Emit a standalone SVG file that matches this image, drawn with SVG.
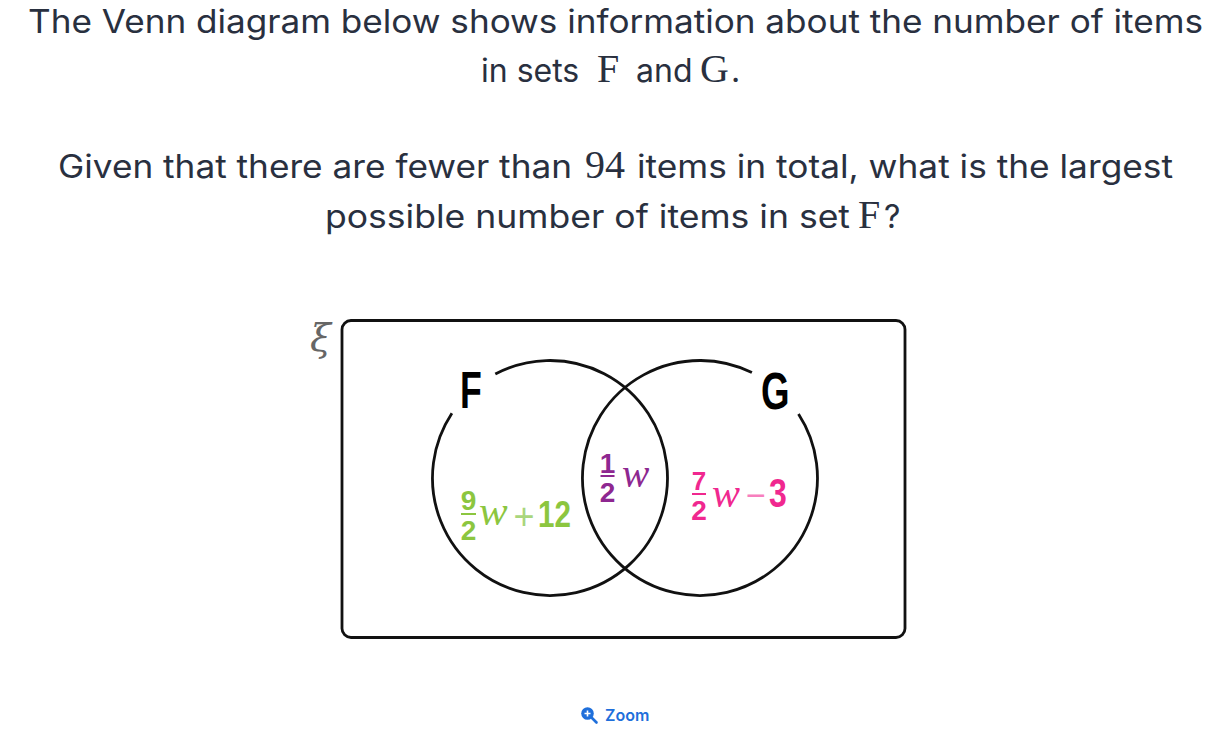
<svg xmlns="http://www.w3.org/2000/svg" width="1230" height="745" viewBox="0 0 1230 745">
<style>
.q{font-family:Inter,"Liberation Sans",sans-serif;font-size:32px;fill:#29303f}
.m{font-family:"Liberation Serif",serif;font-size:40px;fill:#29303f}
.lbl{font-family:"Liberation Sans",sans-serif;font-weight:bold;font-size:51px;fill:#000}
.d{font-family:"Liberation Sans",sans-serif;font-weight:bold}
.w{font-family:"Liberation Serif",serif;font-style:italic}
.ln{fill:none;stroke:#111;stroke-width:2.8}
</style>
<rect width="1230" height="745" fill="#fff"/>
<g id="question">
<text class="q" x="28" y="33" textLength="1175" lengthAdjust="spacingAndGlyphs">The Venn diagram below shows information about the number of items</text>
<text class="q" x="481" y="82">in sets</text>
<text class="m" x="597" y="82">F</text>
<text class="q" x="636" y="82">and</text>
<text class="m" x="700" y="82">G</text>
<text class="q" x="731" y="82">.</text>
<text class="q" x="58" y="178" textLength="514" lengthAdjust="spacingAndGlyphs">Given that there are fewer than</text>
<text class="m" x="585" y="178">94</text>
<text class="q" x="637" y="178" textLength="536" lengthAdjust="spacingAndGlyphs">items in total, what is the largest</text>
<text class="q" x="325" y="228" textLength="525" lengthAdjust="spacingAndGlyphs">possible number of items in set</text>
<text class="m" x="858" y="228">F</text>
<text class="q" x="884" y="228">?</text>
</g>
<g id="universal">
<rect x="342" y="320.5" width="563" height="317" rx="9" class="ln"/>
<text x="310" y="351" style="font-family:'DejaVu Serif',serif;font-style:italic;font-size:38px;fill:#666">ξ</text>
</g>
<g id="setF">
<path class="ln" d="M451.9 413.3 A117.5 117.5 0 1 0 495.3 374"/>
<text class="lbl" transform="translate(460 408) scale(0.7 1)">F</text>
</g>
<g id="setG">
<path class="ln" d="M751.9 372.6 A117.5 117.5 0 1 0 798.5 414"/>
<text class="lbl" transform="translate(761 409) scale(0.72 1)">G</text>
</g>
<g id="regionF" fill="#8cc63f">
<text class="d" x="468.5" y="510" font-size="28" text-anchor="middle">9</text>
<rect x="461" y="513" width="15" height="2"/>
<text class="d" x="468.5" y="540" font-size="28" text-anchor="middle">2</text>
<text class="w" x="479" y="525" font-size="43">w</text>
<text x="524" y="529" font-size="36" text-anchor="middle" fill="#a9d67c" style="font-family:'Liberation Sans',sans-serif">+</text>
<text class="d" transform="translate(538 527) scale(0.8 1)" font-size="37">12</text>
</g>
<g id="regionFG" fill="#8e2790">
<text class="d" x="607.5" y="473" font-size="28" text-anchor="middle">1</text>
<rect x="600.5" y="475" width="14" height="2"/>
<text class="d" x="607.5" y="501.5" font-size="28" text-anchor="middle">2</text>
<text class="w" x="622" y="487" font-size="41">w</text>
</g>
<g id="regionG" fill="#f0288f">
<text class="d" x="699" y="490" font-size="26" text-anchor="middle">7</text>
<rect x="692" y="493" width="14" height="2"/>
<text class="d" x="699" y="520" font-size="28" text-anchor="middle">2</text>
<text class="w" x="712" y="507" font-size="42">w</text>
<text x="756" y="507" font-size="34" text-anchor="middle" fill="#f77fbe" style="font-family:'Liberation Sans',sans-serif">−</text>
<text class="d" transform="translate(769 507) scale(0.8 1)" font-size="40">3</text>
</g>
<g id="connectors"/>
<g id="zoom">
<circle cx="587.5" cy="713.5" r="6.3" fill="#1f6fdb"/>
<path d="M584.5 713.5h6M587.5 710.5v6" stroke="#fff" stroke-width="1.6"/>
<path d="M592 718l4.5 4.5" stroke="#1f6fdb" stroke-width="2.6" stroke-linecap="round"/>
<text x="605" y="721" style="font-family:Inter,'Liberation Sans',sans-serif;font-size:16px;font-weight:600;fill:#1f6fdb">Zoom</text>
</g>
</svg>
